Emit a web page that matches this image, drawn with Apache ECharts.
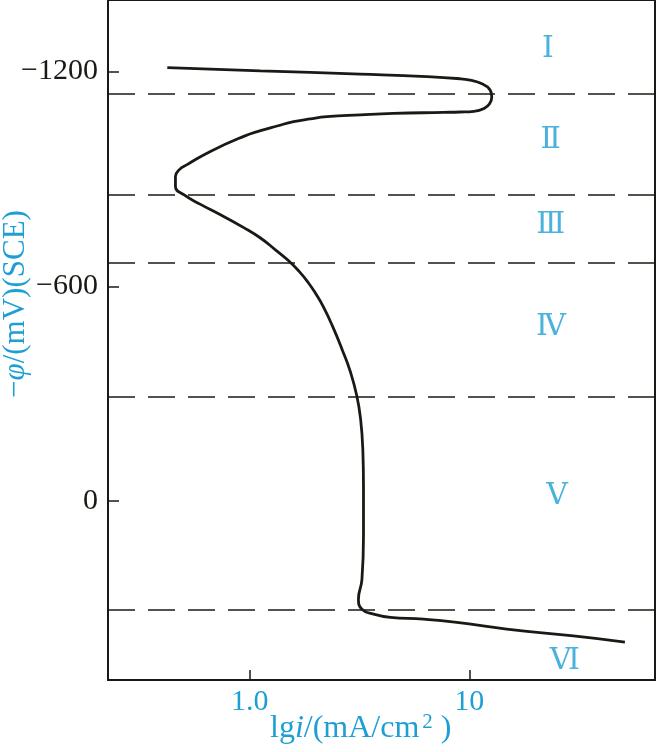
<!DOCTYPE html>
<html><head><meta charset="utf-8">
<script src="https://cdn.jsdelivr.net/npm/echarts@6/dist/echarts.min.js"></script>
<style>html,body{margin:0;padding:0;background:#fff}#c{width:657px;height:752px}</style>
</head><body><div id="c"></div>
<script>
// polarization curve: lg i (x) and -phi in mV (y), in traversal order
const curveLgI = [-0.375, 0.049, 0.503, 0.806, 0.958, 1.003, 1.049, 1.094, 1.102, 1.092, 1.067, 1.021, 0.958, 0.882, 0.653, 0.503, 0.352, 0.276, 0.200, 0.125, 0.049, -0.027, -0.179, -0.285, -0.320, -0.338, -0.338, -0.300, -0.224, -0.133, -0.027, 0.049, 0.117, 0.176, 0.226, 0.267, 0.303, 0.335, 0.376, 0.421, 0.458, 0.488, 0.505, 0.515, 0.518, 0.518, 0.511, 0.495, 0.511, 0.564, 0.640, 0.791, 0.943, 1.170, 1.473, 1.708];
const curvePhi = [-1211, -1202, -1193, -1186, -1180, -1176, -1168, -1149, -1130, -1110, -1097, -1089, -1087, -1086, -1083, -1079, -1074, -1068, -1060, -1048, -1035, -1019, -977, -940, -926, -907, -879, -856, -829, -800, -764, -735, -702, -672, -641, -610, -577, -543, -490, -423, -362, -293, -228, -144, -42, 98, 219, 274, 302, 316, 325, 330, 339, 358, 377, 394];
const boundaryPhi = [-1137, -856, -667, -291, 305];
const regionNames = ['Ⅰ', 'Ⅱ', 'Ⅲ', 'Ⅳ', 'Ⅴ', 'Ⅵ'];
const regionLgI = [1.358, 1.370, 1.370, 1.372, 1.399, 1.435];
const regionPhi = [-1263, -1009, -770, -487, -14, 446];
const yTicks = [-1200, -600, 0];
const xTicks = [0, 1];
const xTickLabels = ['1.0', '10'];

const BLUE = '#1e9fd4';
const INK = '#1a1a14';
const SERIF = '"Liberation Serif", "DejaVu Serif", serif';

const chart = echarts.init(document.getElementById('c'), null, {renderer: 'canvas'});
chart.setOption({
  backgroundColor: '#fff',
  animation: false,
  grid: {left: 108, right: 2, top: 0, bottom: 72, show: true, borderColor: INK, borderWidth: 2, backgroundColor: 'transparent'},
  xAxis: {
    type: 'value', min: -0.645, max: 1.845,
    axisLine: {show: true, onZero: false, lineStyle: {color: INK, width: 2}},
    axisTick: {show: true, inside: true, length: 10, customValues: xTicks, lineStyle: {color: INK, width: 1.5}},
    axisLabel: {customValues: xTicks, margin: 7, color: BLUE, fontFamily: SERIF, fontSize: 30,
      formatter: v => xTickLabels[xTicks.indexOf(v)]},
    splitLine: {show: false}
  },
  yAxis: {
    type: 'value', inverse: true, min: -1400, max: 500,
    axisLine: {show: true, onZero: false, lineStyle: {color: INK, width: 2}},
    axisTick: {show: true, inside: true, length: 11, customValues: yTicks, lineStyle: {color: INK, width: 1.5}},
    axisLabel: {customValues: yTicks, margin: 10, color: INK, fontFamily: SERIF, fontSize: 30,
      formatter: v => (v < 0 ? '\u2212' + Math.abs(v) : String(v))},
    splitLine: {show: false}
  },
  graphic: [
    {type: 'text', left: 270, top: 712, z: 10,
      style: {text: '{a|lg}{i|i}{a|/(mA/cm}{s|2}{a| )}', rich: {
        a: {fontFamily: SERIF, fontSize: 32, fill: BLUE},
        i: {fontFamily: SERIF, fontSize: 32, fontStyle: 'italic', fill: BLUE},
        s: {fontFamily: SERIF, fontSize: 21, fill: BLUE, padding: [0, 0, 13, 3]}
      }}},
    {type: 'text', x: 16, y: 304, rotation: Math.PI / 2, z: 10,
      style: {text: '{a|\u2212}{i|\u03c6}{a|/(mV)(SCE)}', align: 'center', verticalAlign: 'middle', rich: {
        a: {fontFamily: SERIF, fontSize: 31, fill: BLUE},
        i: {fontFamily: SERIF, fontSize: 31, fontStyle: 'italic', fill: BLUE}
      }}}
  ],
  series: [
    {
      type: 'line', smooth: 0.5, showSymbol: false, symbol: 'none',
      data: curveLgI.map((x, k) => [x, curvePhi[k]]),
      lineStyle: {color: INK, width: 2.8}, z: 5,
      markLine: {
        silent: true, symbol: ['none', 'none'], label: {show: false},
        lineStyle: {color: INK, width: 1.5, type: [27, 13]},
        data: boundaryPhi.map(v => ({yAxis: v}))
      }
    },
    {
      type: 'scatter', symbolSize: 0,
      data: regionLgI.map((x, k) => [x, regionPhi[k], regionNames[k]]),
      label: {show: true, position: 'inside', formatter: p => p.data[2], color: BLUE, fontFamily: SERIF, fontSize: 30}
    }
  ]
});
</script></body></html>
